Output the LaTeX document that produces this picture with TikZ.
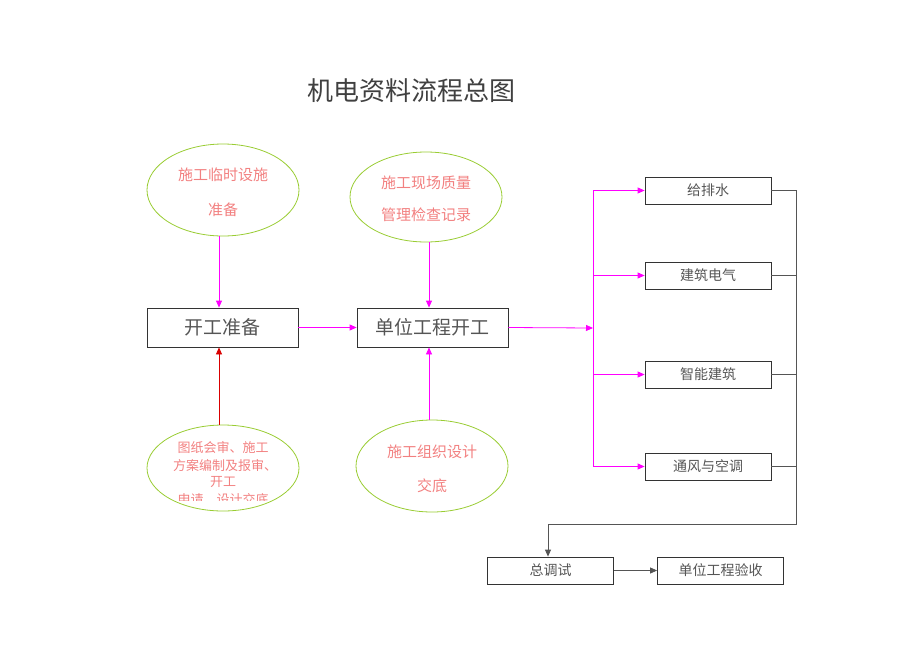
\documentclass[tikz,border=0pt]{standalone}
\usepackage{fontspec}
\setmainfont{Noto Sans CJK SC}
\usetikzlibrary{arrows.meta}
\definecolor{mag}{HTML}{FF00FF}
\definecolor{ygreen}{HTML}{99CC33}
\definecolor{salmon}{HTML}{F28080}
\definecolor{boxtext}{HTML}{555555}
\definecolor{gline}{HTML}{555555}
\tikzset{
  bx/.style={draw=black!80, line width=0.8pt, minimum height=27pt, minimum width=126pt, inner sep=0pt, text=boxtext, font=\fontsize{14}{16}\selectfont},
  bigbx/.style={draw=black!80, line width=0.8pt, minimum height=39pt, minimum width=151pt, inner sep=0pt, text=boxtext, font=\fontsize{19}{21}\selectfont},
  ovtext/.style={text=salmon, inner sep=0pt},
  marr/.style={draw=mag, line width=0.8pt, -{Triangle[length=7pt,width=6pt]}},
  rarr/.style={draw=red!85!black, line width=0.8pt, -{Triangle[length=7pt,width=6pt]}},
  garr/.style={draw=gline, line width=0.8pt, -{Triangle[length=7pt,width=6pt]}},
  gl/.style={draw=gline, line width=0.8pt},
}
\begin{document}
\begin{tikzpicture}[x=1pt,y=-1pt]
\useasboundingbox (0,0) rectangle (920,651);
% title
\node[text=black!75, font=\fontsize{26}{28}\selectfont] (title) at (411,91) {机电资料流程总图};
% top ellipses
\draw[ygreen, line width=0.8pt] (223,190) ellipse [x radius=76, y radius=46];
\coordinate (e1b) at (219,236);
\node[ovtext, font=\fontsize{15}{17}\selectfont] (e1t1) at (223,175) {施工临时设施};
\node[ovtext, font=\fontsize{15}{17}\selectfont] (e1t2) at (223,210) {准备};
\draw[ygreen, line width=0.8pt] (426,197) ellipse [x radius=76, y radius=45];
\coordinate (e2b) at (429,242);
\node[ovtext, font=\fontsize{15}{17}\selectfont] (e2t1) at (426,183) {施工现场质量};
\node[ovtext, font=\fontsize{15}{17}\selectfont] (e2t2) at (426,215) {管理检查记录};
% bottom ellipses
\draw[ygreen, line width=0.8pt] (223,468) ellipse [x radius=76, y radius=43];
\coordinate (e3t) at (219,425);
\begin{scope}
\clip (140,430) rectangle (310,500);
\node[ovtext, font=\fontsize{13}{15}\selectfont] (e3a) at (223,448) {图纸会审、施工};
\node[ovtext, font=\fontsize{13}{15}\selectfont] (e3b) at (225,466) {方案编制及报审、};
\node[ovtext, font=\fontsize{13}{15}\selectfont] (e3c) at (223,482) {开工};
\node[ovtext, font=\fontsize{13}{15}\selectfont] (e3d) at (223,500) {申请、设计交底};
\end{scope}
\draw[ygreen, line width=0.8pt] (432,466) ellipse [x radius=76, y radius=46];
\coordinate (e4t) at (429,420);
\node[ovtext, font=\fontsize{15}{17}\selectfont] (e4a) at (432,452) {施工组织设计};
\node[ovtext, font=\fontsize{15}{17}\selectfont] (e4b) at (432,486) {交底};
% main boxes
\node[bigbx] (kg) at (222.5,327.5) {开工准备};
\node[bigbx] (dw) at (432.5,327.5) {单位工程开工};
\coordinate (split) at (593,328);
% right boxes
\node[bx] (a) at (708,190.5) {给排水};
\node[bx] (b) at (708,275.5) {建筑电气};
\node[bx] (c) at (708,374.5) {智能建筑};
\node[bx] (d) at (708,466.5) {通风与空调};
% bottom boxes
\node[bx] (zt) at (550.5,570.5) {总调试};
\node[bx] (ys) at (720.5,570.5) {单位工程验收};
% arrows
\draw[marr] (e1b) -- (e1b |- kg.north);
\draw[rarr] (e3t) -- (e3t |- kg.south);
\draw[marr] (e2b) -- (e2b |- dw.north);
\draw[marr] (e4t) -- (e4t |- dw.south);
\draw[marr] (kg.east) -- (dw.west);
\draw[marr] (dw.east) -- (split);
\draw[mag, line width=0.8pt] (split |- a.west) -- (split |- d.west);
\draw[marr] (split |- a.west) -- (a.west);
\draw[marr] (split |- b.west) -- (b.west);
\draw[marr] (split |- c.west) -- (c.west);
\draw[marr] (split |- d.west) -- (d.west);
% gray collector
\coordinate (rc) at (796,524);
\coordinate (lc) at (548,524);
\draw[gl] (a.east) -- (a.east -| rc) -- (rc) -- (lc);
\draw[gl] (b.east) -- (b.east -| rc);
\draw[gl] (c.east) -- (c.east -| rc);
\draw[gl] (d.east) -- (d.east -| rc);
\draw[garr] (lc) -- (lc |- zt.north);
\draw[garr] (zt.east) -- (ys.west);
\end{tikzpicture}
\end{document}
